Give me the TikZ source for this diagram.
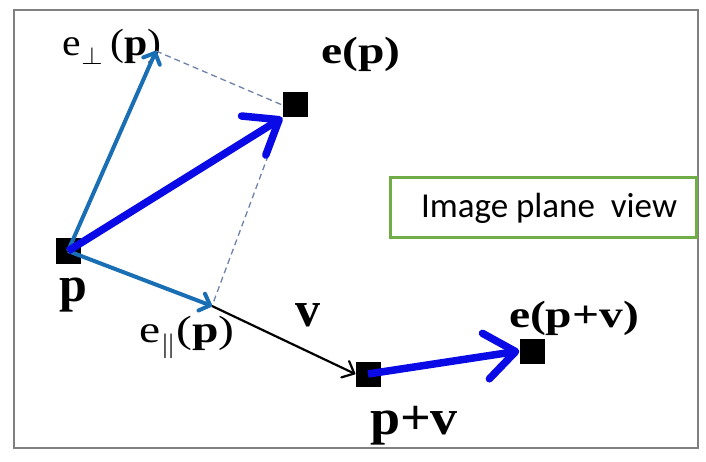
\documentclass[tikz,border=0pt]{standalone}
\usepackage{fontspec}
\setmainfont{Liberation Serif}
\newfontfamily\boxfont{Carlito}
\usetikzlibrary{arrows.meta}

\definecolor{framegray}{RGB}{128,128,128}
\definecolor{boxgreen}{RGB}{112,173,71}
\definecolor{strongblue}{RGB}{10,10,230}
\definecolor{steelblue}{RGB}{25,110,180}
\definecolor{dashblue}{RGB}{110,130,170}
\newcommand{\widelabel}[2][1.25]{\scalebox{#1}[1]{#2}}

\begin{document}
\begin{tikzpicture}[x=1pt, y=-1pt,
    pointbox/.style={shape=rectangle, fill=black, minimum size=25pt, inner sep=0pt},
    lbl/.style={anchor=base, inner sep=0pt, font=\fontsize{38}{38}\selectfont},
    biglbl/.style={anchor=base, inner sep=0pt, font=\fontsize{50}{50}\selectfont\bfseries}]
    % Define the layers library
    \pgfdeclarelayer{0}
    \pgfdeclarelayer{1}
    \pgfsetlayers{0,1}
    \useasboundingbox (0,0) rectangle (706,462);

    % Layer 0
    \begin{pgfonlayer}{0}
        \draw[color=framegray, line width=2] (14,10) rectangle (698,448);
        \node[pointbox] (p) at ({68}, {251}) {};
        \node[pointbox] (ep) at ({295}, {105}) {};
        \node[pointbox] (pv) at ({368}, {374}) {};
        \node[pointbox] (epv) at ({532}, {351}) {};
        \coordinate (eperp) at ({156}, {51});
        \coordinate (epar) at ({212}, {306});
        \node[draw=boxgreen, line width=3, minimum width=306pt, minimum height=60pt, font=\boxfont\fontsize{35}{35}\selectfont] (view) at ({543}, {208}) {\hspace*{12pt}Image plane\ \ view};
        \node[biglbl] (plbl) at ({73}, {301}) {p};
        \node[biglbl] (vlbl) at ({308}, {326}) {v};
        \node[biglbl] (pvlbl) at ({414}, {434}) {\widelabel[1.08]{p+v}};
        \node[lbl, font=\fontsize{38}{38}\selectfont\bfseries] (eplbl) at ({361}, {64}) {\widelabel{e(p)}};
        \node[lbl, font=\fontsize{38}{38}\selectfont\bfseries] (epvlbl) at ({574}, {327}) {\widelabel{e(p+v)}};
        \node[lbl] (eperplbl) at ({112}, {56}) {\widelabel[1.1]{e\textsubscript{$\perp$}\,(\textbf{p})}};
        \node[lbl] (eparlbl) at ({187}, {342}) {\widelabel{e\textsubscript{$\|$}(\textbf{p})}};
    \end{pgfonlayer}{0}

    % Layer 1
    \begin{pgfonlayer}{1}
        \draw[color=dashblue, line width=1.3, dash pattern=on 6pt off 4pt] (eperp) -- (ep.west);
        \draw[color=dashblue, line width=1.3, dash pattern=on 6pt off 4pt] (ep.south west) -- (epar);
        \draw[color=steelblue, line width=4, arrows={-Straight Barb[length=9pt, width=18pt, round]}] (p.center) -- (eperp);
        \draw[color=steelblue, line width=4, arrows={-Straight Barb[length=9pt, width=18pt, round]}] (p.center) -- (epar);
        \draw[color=black, line width=2.2, arrows={-Straight Barb[length=10pt, width=18pt, round]}] (epar) -- (pv.west);
        \draw[color=strongblue, line width=7.5, arrows={-Straight Barb[length=30pt, width=46pt, round]}] (p.center) -- (ep.south west);
        \draw[color=strongblue, line width=7.5, arrows={-Straight Barb[length=30pt, width=46pt, round]}] (pv.center) -- (epv.west);
    \end{pgfonlayer}{1}
\end{tikzpicture}
\end{document}
